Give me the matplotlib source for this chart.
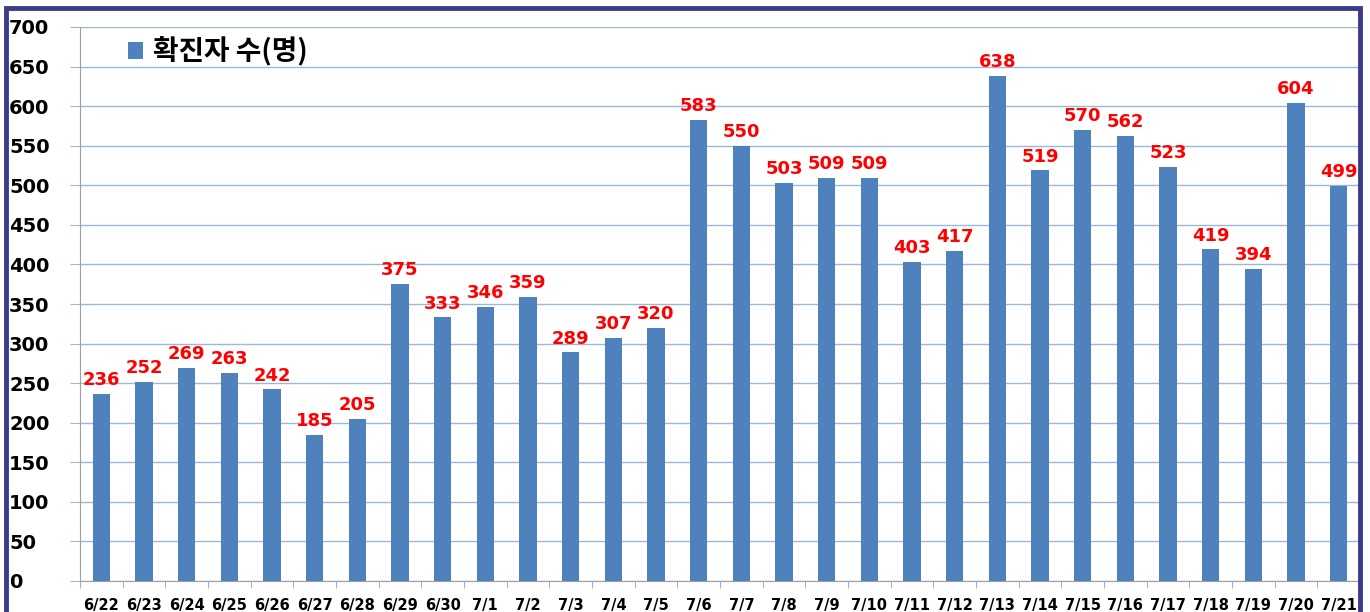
import matplotlib
matplotlib.use("Agg")
import matplotlib.pyplot as plt
from matplotlib.patches import Rectangle

plt.rcParams['font.family'] = ['Noto Sans CJK KR', 'DejaVu Sans']

# 날짜별 확진자 수
dates = ['6/22', '6/23', '6/24', '6/25', '6/26', '6/27', '6/28', '6/29', '6/30',
         '7/1', '7/2', '7/3', '7/4', '7/5', '7/6', '7/7', '7/8', '7/9', '7/10',
         '7/11', '7/12', '7/13', '7/14', '7/15', '7/16', '7/17', '7/18', '7/19',
         '7/20', '7/21']
cases = [236, 252, 269, 263, 242, 185, 205, 375, 333, 346, 359, 289, 307, 320,
         583, 550, 503, 509, 509, 403, 417, 638, 519, 570, 562, 523, 419, 394,
         604, 499]
y_ticks = list(range(0, 701, 50))

fig = plt.figure(figsize=(13.7, 6.12), dpi=100)
ax = fig.add_axes([80 / 1370, 1 - 581 / 612, 1280 / 1370, 554 / 612])

x = range(len(dates))
bars = ax.bar(x, cases, width=0.40, color='#4f81bd', label='확진자 수(명)', zorder=3)

for xi, v in zip(x, cases):
    ax.text(xi, v + 6, str(v), ha='center', va='bottom', color='#ff0000',
            fontsize=13, fontweight='bold', family='DejaVu Sans', zorder=4)

ax.set_xlim(-0.5, len(dates) - 0.5)
ax.set_ylim(0, 700)
ax.set_yticks(y_ticks)
ax.set_yticklabels([str(t) for t in y_ticks], fontsize=14, fontweight='bold',
                   family='DejaVu Sans')
for lab in ax.get_yticklabels():
    lab.set_horizontalalignment('left')
ax.tick_params(axis='y', length=7, color='#9ab8d8', pad=44)
ax.grid(axis='y', color='#9ab8d8', linewidth=1, zorder=0)

# 날짜 라벨은 막대 중앙, 눈금은 막대 사이
ax.set_xticks(list(x))
ax.set_xticklabels(dates, fontsize=10.5, fontweight='bold', family='DejaVu Sans')
ax.tick_params(axis='x', length=0, pad=12)
ax.set_xticks([i - 0.5 for i in range(len(dates) + 1)], minor=True)
ax.tick_params(axis='x', which='minor', length=5, color='#a0a0a0', direction='out')

for s in ['top', 'right']:
    ax.spines[s].set_visible(False)
ax.spines['left'].set_color('#a0a0a0')
ax.spines['bottom'].set_color('#a0a0a0')

leg = ax.legend(loc='upper left', bbox_to_anchor=(0.018, 1.028), frameon=False,
                prop={'family': ['Noto Sans CJK KR', 'DejaVu Sans'], 'weight': 'bold', 'size': 20},
                handlelength=0.55, handleheight=0.55, handletextpad=0.35)

# 바깥 테두리
fig.patches.append(Rectangle((6 / 1370, -0.05), 1354 / 1370, 1 - 8 / 612 + 0.05,
                             transform=fig.transFigure, fill=False,
                             edgecolor='#3b3b8e', linewidth=3.5, zorder=10))

fig.savefig('out.png', dpi=100)
